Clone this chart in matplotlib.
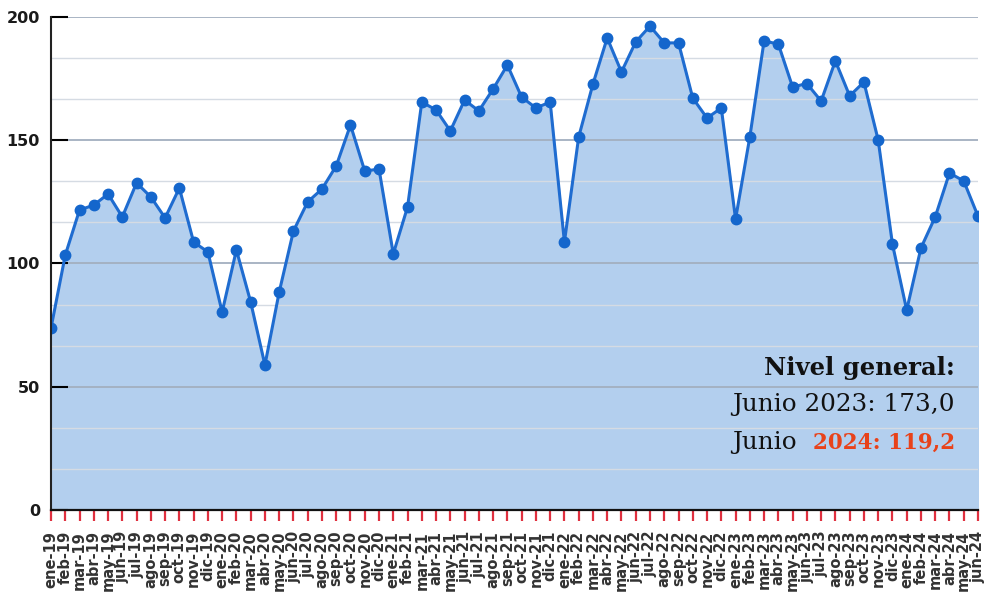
import numpy as np
import matplotlib
matplotlib.use("Agg")
import matplotlib.pyplot as plt

# ------------------------------------------------------------
# Data
# ------------------------------------------------------------
months = ["ene", "feb", "mar", "abr", "may", "jun",
          "jul", "ago", "sep", "oct", "nov", "dic"]
years = ["19", "20", "21", "22", "23", "24"]
labels = [f"{m}-{y}" for y in years for m in months][:66]

values = [
    73.8, 103.4, 121.7, 123.7, 128.2, 118.9, 132.7, 127.0, 118.5, 130.6, 108.7, 104.7,
    80.3, 105.5, 84.4, 58.8, 88.4, 113.2, 125.0, 130.2, 139.6, 156.2, 137.5, 138.3,
    103.9, 122.9, 165.5, 162.3, 153.8, 166.3, 161.9, 170.8, 180.5, 167.5, 163.1, 165.5,
    108.7, 151.3, 172.8, 191.5, 177.7, 189.9, 196.3, 189.5, 189.5, 167.1, 159.0, 163.1,
    118.0, 151.3, 190.3, 189.0, 171.6, 173.0, 165.9, 182.2, 168.0, 173.6, 150.1, 107.9,
    81.1, 106.3, 118.9, 136.7, 133.5, 119.2,
]

title_text = "Nivel general:"
line_2023 = "Junio 2023: 173,0"
label_2024 = "Junio  "
value_2024 = "2024: 119,2"

# ------------------------------------------------------------
# Figure
# ------------------------------------------------------------
fig = plt.figure(figsize=(9.84, 5.95), dpi=100)
ax = fig.add_axes([51 / 984, 85 / 595, 927 / 984, 493 / 595])
ax.set_axisbelow(False)

x = np.arange(len(values))

ax.fill_between(x, values, 0, color="#b3cfee", zorder=1)
ax.plot(x, values, color="#1f6cd0", linewidth=2.2, marker="o",
        markersize=7.5, markerfacecolor="#1466cc", markeredgecolor="#1466cc",
        zorder=3)

ax.set_xlim(0, len(values) - 1)
ax.set_ylim(0, 200)

# gridlines: major every 50, minor every 50/3
for yv in np.arange(0, 201, 50 / 3):
    if yv < 1e-6:
        continue
    major = abs(yv / 50 - round(yv / 50)) < 1e-6
    ax.axhline(yv, color="#a3afbf" if major else "#d5dbe3",
               linewidth=1.3 if major else 1.0, zorder=2)

ax.set_yticks([0, 50, 100, 150, 200])
ax.set_yticklabels(["0", "50", "100", "150", "200"])
ax.tick_params(axis="y", direction="in", length=12, width=1.5,
               color="black", labelsize=11.5, pad=8)
for t in ax.get_yticklabels():
    t.set_fontweight("bold")
    t.set_color("#1a1a1a")

ax.set_xticks(x)
ax.set_xticklabels(labels, rotation=90, fontsize=10.5, fontweight="bold",
                   color="#333333")
ax.tick_params(axis="x", direction="out", length=8, width=1.6,
               color="#e0303f", pad=7)

for side in ["top", "right"]:
    ax.spines[side].set_visible(False)
ax.spines["left"].set_color("#222222")
ax.spines["left"].set_linewidth(1.5)
ax.spines["bottom"].set_color("#111111")
ax.spines["bottom"].set_linewidth(1.6)
ax.spines["left"].set_zorder(4)
ax.spines["bottom"].set_zorder(4)

# ------------------------------------------------------------
# Annotation block
# ------------------------------------------------------------
serif = "DejaVu Serif"
ax.text(0.975, 0.2738, title_text, transform=ax.transAxes, ha="right",
        va="baseline", fontsize=17.5, fontweight="bold", family=serif,
        color="#111111", zorder=5)
ax.text(0.975, 0.2008, line_2023, transform=ax.transAxes, ha="right",
        va="baseline", fontsize=17.8, family=serif, color="#111111", zorder=5)
red = ax.text(0.975, 0.1237, value_2024, transform=ax.transAxes, ha="right",
              va="baseline", fontsize=15.5, fontweight="bold", family=serif,
              color="#e8421a", zorder=5)

# put "Junio" just left of the red value, on the same baseline
fig.canvas.draw()
red_left = red.get_window_extent().x0
x_left = ax.transAxes.inverted().transform((red_left, 0))[0]
ax.text(x_left, 0.1237, label_2024, transform=ax.transAxes, ha="right",
        va="baseline", fontsize=17.8, family=serif, color="#111111", zorder=5)

fig.savefig("out.png", dpi=100)
